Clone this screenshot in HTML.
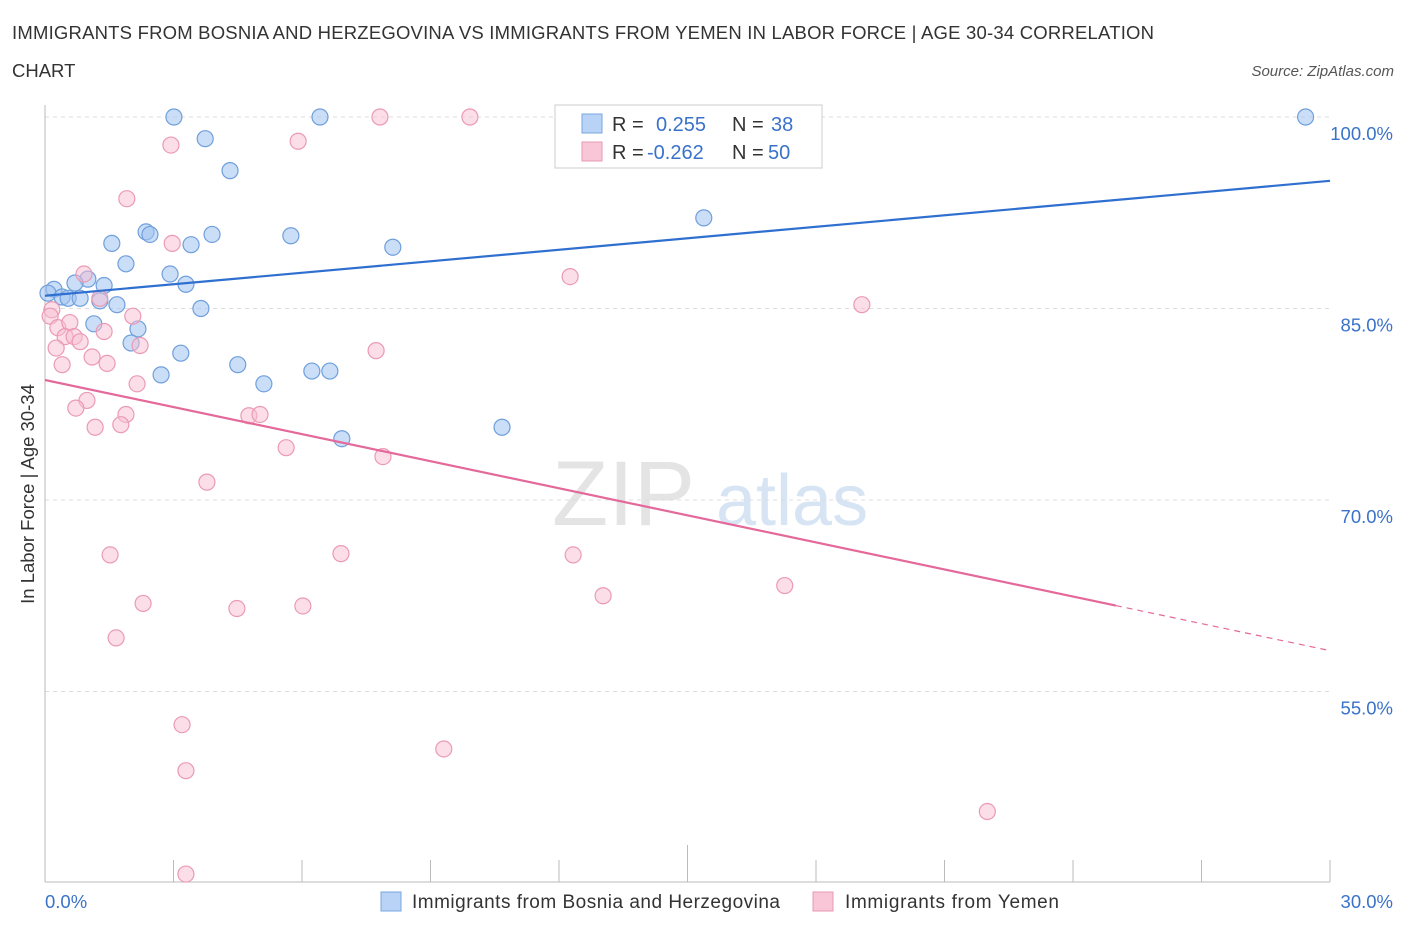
<!DOCTYPE html>
<html><head><meta charset="utf-8">
<style>
body{margin:0;background:#fff;font-family:"Liberation Sans",sans-serif;}
svg text{font-family:"Liberation Sans",sans-serif;}
</style></head>
<body>
<svg id="chart" width="1406" height="930" xmlns="http://www.w3.org/2000/svg">
<text x="12" y="39" font-size="18.5" fill="#333" textLength="1142" lengthAdjust="spacing">IMMIGRANTS FROM BOSNIA AND HERZEGOVINA VS IMMIGRANTS FROM YEMEN IN LABOR FORCE | AGE 30-34 CORRELATION</text>
<text x="12" y="77" font-size="18.5" fill="#333">CHART</text>
<text x="1394" y="76" font-size="15" fill="#555" font-style="italic" text-anchor="end">Source: ZipAtlas.com</text>
<text x="552" y="525" font-size="92" fill="#e4e4e4" font-family="Liberation Serif">ZIP</text>
<text x="716" y="525" font-size="72" fill="#d6e4f3">atlas</text>
<g id="grid"></g>
<g id="axes"></g>
<g id="marks"></g>
<text transform="translate(34,494) rotate(-90)" font-size="18.5" fill="#333" text-anchor="middle">In Labor Force | Age 30-34</text>
<g>
<rect x="555" y="105" width="267" height="63" fill="#fff" stroke="#ccc"/>
<rect x="582" y="114" width="20" height="19" fill="#b8d3f5" stroke="#7aa7e0"/>
<rect x="582" y="142" width="20" height="19" fill="#f8c6d6" stroke="#e99ab3"/>
<text x="612" y="131" font-size="20" fill="#333">R =</text>
<text x="656" y="131" font-size="20" fill="#3a72c9">0.255</text>
<text x="732" y="131" font-size="20" fill="#333">N =</text>
<text x="771" y="131" font-size="20" fill="#3a72c9">38</text>
<text x="612" y="159" font-size="20" fill="#333">R =</text>
<text x="647" y="159" font-size="20" fill="#3a72c9">-0.262</text>
<text x="732" y="159" font-size="20" fill="#333">N =</text>
<text x="768" y="159" font-size="20" fill="#3a72c9">50</text>
</g>
<g>
<rect x="381" y="892" width="20" height="19" fill="#b8d3f5" stroke="#7aa7e0"/>
<text x="412" y="908" font-size="19" fill="#333" textLength="368" lengthAdjust="spacing">Immigrants from Bosnia and Herzegovina</text>
<rect x="813" y="892" width="20" height="19" fill="#f8c6d6" stroke="#e99ab3"/>
<text x="845" y="908" font-size="19" fill="#333" textLength="214" lengthAdjust="spacing">Immigrants from Yemen</text>
</g>
</svg>
<script>
const yTicks=[100,85,70,55];
const xTickLabels=["0.0%","30.0%"];
const bosniaX=[3.01,6.42,3.74,4.32,29.43,2.36,2.45,1.56,3.90,5.74,3.41,8.12,1.89,15.38,2.92,1.00,0.70,3.29,1.38,0.21,0.07,0.40,0.54,0.82,1.28,1.68,3.64,1.14,2.17,2.01,3.17,4.50,2.71,5.11,6.23,6.65,6.93,10.67];
const bosniaY=[100,100,98.3,95.8,100,91.0,90.8,90.1,90.8,90.7,90.0,89.8,88.5,92.1,87.7,87.3,87.0,86.9,86.8,86.5,86.2,85.9,85.8,85.8,85.6,85.3,85.0,83.8,83.4,82.3,81.5,80.6,79.8,79.1,80.1,80.1,74.8,75.7];
const yemenX=[7.82,9.92,2.94,5.91,1.91,2.97,12.26,19.07,0.91,1.28,0.16,0.12,0.30,0.58,0.47,0.68,0.82,1.38,2.05,2.22,0.26,0.40,1.10,1.45,7.73,2.15,0.98,0.72,1.89,1.17,1.77,4.76,5.02,5.63,7.89,3.78,1.52,6.91,12.33,2.29,4.48,6.02,13.03,17.27,1.66,3.20,9.31,3.29,22.00,3.29];
const yemenY=[100,100,97.8,98.1,93.6,90.1,87.5,85.3,87.7,85.8,84.9,84.4,83.5,83.9,82.8,82.8,82.4,83.2,84.4,82.1,81.9,80.6,81.2,80.7,81.7,79.1,77.8,77.2,76.7,75.7,75.9,76.6,76.7,74.1,73.4,71.4,65.7,65.8,65.7,61.9,61.5,61.7,62.5,63.3,59.2,52.4,50.5,48.8,45.6,40.7];
const bosniaTrend=[86.0,95.0];
const yemenTrend=[79.4,58.2];
const yemenSolidEnd=25.0;
const NS="http://www.w3.org/2000/svg";
const X=v=>45+v/30*1285, Y=v=>117+(100-v)*12.767;
function mk(t,a,p){const e=document.createElementNS(NS,t);for(const k in a)e.setAttribute(k,a[k]);p.appendChild(e);return e;}
const grid=document.getElementById('grid'),axes=document.getElementById('axes'),marks=document.getElementById('marks');
yTicks.forEach(v=>{
 const l=mk('line',{x1:45,x2:1330,y1:Y(v),y2:Y(v),stroke:'#ddd','stroke-dasharray':'4,4'},grid);
 
 
 const t=mk('text',{x:1393,y:Y(v)+23,'font-size':18.5,fill:'#3a72c9','text-anchor':'end'},axes);
 t.textContent=v.toFixed(1)+'%';
 
 
});
const xa=mk('line',{x1:45,x2:1330,y1:882,y2:882,stroke:'#bbb'},axes);


const ya=mk('line',{x1:45,x2:45,y1:105,y2:882,stroke:'#bbb'},axes);


for(let i=0;i<=10;i++){
 const tk=mk('line',{x1:X(i*3),x2:X(i*3),y1:882,y2:i==5?845:860,stroke:'#bbb'},axes);
 
 
}
[[0,'start',45],[1,'end',1393]].forEach(([i,a,x])=>{
 const t=mk('text',{x:x,y:908,'font-size':18.5,fill:'#3a72c9','text-anchor':a},axes);
 t.textContent=xTickLabels[i];
 
 
});
bosniaX.forEach((x,i)=>{
 const c=mk('circle',{cx:X(x),cy:Y(bosniaY[i]),r:8,fill:'rgba(160,195,240,0.55)',stroke:'#6f9fdc','stroke-width':1.2},marks);
 
 
});
yemenX.forEach((x,i)=>{
 const c=mk('circle',{cx:X(x),cy:Y(yemenY[i]),r:8,fill:'rgba(248,190,210,0.5)',stroke:'#eb9ab5','stroke-width':1.2},marks);
 
 
});
const bl=mk('line',{x1:X(0),y1:Y(bosniaTrend[0]),x2:X(30),y2:Y(bosniaTrend[1]),stroke:'#2f6fd0','stroke-width':2.2},marks);


const ym=v=>yemenTrend[0]+(yemenTrend[1]-yemenTrend[0])*v/30;
const pl=mk('line',{x1:X(0),y1:Y(yemenTrend[0]),x2:X(yemenSolidEnd),y2:Y(ym(yemenSolidEnd)),stroke:'#e4699a','stroke-width':2.2},marks);


const pd=mk('line',{x1:X(yemenSolidEnd),y1:Y(ym(yemenSolidEnd)),x2:X(30),y2:Y(yemenTrend[1]),stroke:'#e4699a','stroke-width':1.2,'stroke-dasharray':'6,5'},marks);


</script>
</body></html>
